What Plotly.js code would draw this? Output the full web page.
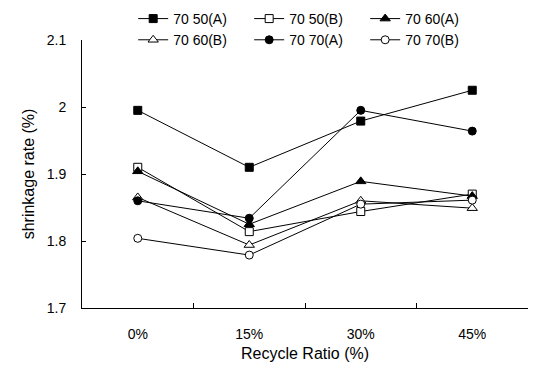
<!DOCTYPE html>
<html>
<head>
<meta charset="utf-8">
<script src="https://cdn.plot.ly/plotly-3.0.1.min.js"></script>
<style>
  html, body { margin: 0; padding: 0; background: #fff; }
  #chart { width: 537px; height: 374px; }
</style>
</head>
<body>
<div id="chart"></div>
<script>
// Recycle ratio categories
const ratios = ["0%", "15%", "30%", "45%"];

// Shrinkage rate (%) per mix
const mix7050A = [1.995, 1.910, 1.979, 2.025];
const mix7050B = [1.910, 1.814, 1.844, 1.870];
const mix7060A = [1.904, 1.825, 1.889, 1.867];
const mix7060B = [1.865, 1.794, 1.860, 1.849];
const mix7070A = [1.860, 1.834, 1.995, 1.964];
const mix7070B = [1.804, 1.779, 1.855, 1.861];

const names = ["70 50(A)", "70 50(B)", "70 60(A)", "70 60(B)", "70 70(A)", "70 70(B)"];
const seriesValues = [mix7050A, mix7050B, mix7060A, mix7060B, mix7070A, mix7070B];
const symbols = ["square", "square", "triangle-up", "triangle-up", "circle", "circle"];
const fills = ["#000", "#fff", "#000", "#fff", "#000", "#fff"];

const traces = seriesValues.map((vals, i) => ({
  type: "scatter",
  mode: "lines+markers",
  name: names[i],
  x: ratios,
  y: vals,
  line: { color: "#000", width: 1 },
  marker: {
    symbol: symbols[i],
    size: symbols[i] === "triangle-up" ? 9 : 8,
    color: fills[i],
    line: { color: "#000", width: 1 }
  }
}));

const font = { family: "Liberation Sans, Arial, sans-serif", color: "#000" };

const layout = {
  width: 537,
  height: 374,
  margin: { l: 82, r: 9, t: 40, b: 66, autoexpand: false },
  paper_bgcolor: "#fff",
  plot_bgcolor: "#fff",
  font: Object.assign({ size: 14 }, font),
  showlegend: true,
  legend: {
    orientation: "h",
    xref: "container",
    yref: "container",
    x: 0.248,
    y: 0.992,
    xanchor: "left",
    yanchor: "top",
    entrywidth: 71,
    entrywidthmode: "pixels",
    font: Object.assign({ size: 14 }, font),
    itemwidth: 30,
    bgcolor: "rgba(0,0,0,0)"
  },
  xaxis: {
    type: "category",
    range: [-0.5, 3.5],
    showline: true,
    linecolor: "#000",
    linewidth: 1,
    ticks: "inside",
    tickson: "boundaries",
    ticklen: 5,
    tickcolor: "#000",
    showgrid: false,
    zeroline: false,
    ticklabelstandoff: 13,
    tickfont: Object.assign({ size: 14 }, font),
    title: { text: "Recycle Ratio (%)", font: Object.assign({ size: 16 }, font), standoff: 7 }
  },
  yaxis: {
    range: [1.7, 2.1],
    dtick: 0.1,
    tick0: 1.7,
    showline: true,
    linecolor: "#000",
    linewidth: 1,
    ticks: "inside",
    ticklen: 4,
    tickcolor: "#000",
    showgrid: false,
    zeroline: false,
    ticklabelstandoff: 12,
    tickfont: Object.assign({ size: 14 }, font),
    title: { text: "shrinkage rate (%)", font: Object.assign({ size: 16 }, font), standoff: 8 }
  }
};

Plotly.newPlot("chart", traces, layout, { displayModeBar: false, staticPlot: true });
</script>
</body>
</html>
